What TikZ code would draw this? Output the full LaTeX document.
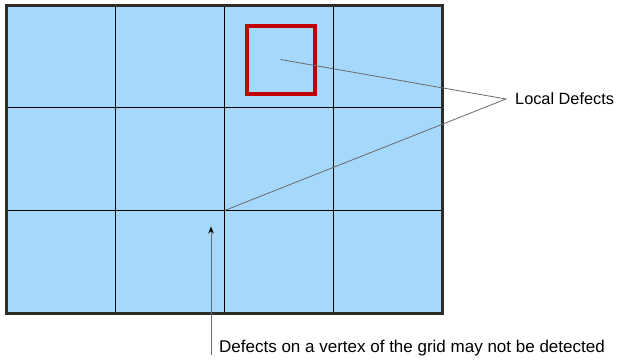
\documentclass[tikz,border=0pt]{standalone}
\usepackage{fontspec}
\setmainfont{Liberation Sans}
\usetikzlibrary{arrows.meta}
\definecolor{cellblue}{HTML}{A6D8FC}
\definecolor{framec}{HTML}{302C28}
\definecolor{defred}{HTML}{C00000}
\definecolor{leader}{HTML}{6A6A6A}
\tikzset{
  gridline/.style={black, line width=1.1pt},
  frame/.style={draw=framec, line width=3pt, fill=cellblue},
  redbox/.style={draw=defred, line width=4pt},
  leaderline/.style={draw=leader, line width=0.8pt},
  label/.style={font=\fontsize{16.3}{19}\selectfont, inner sep=0pt, anchor=base west}
}
\begin{document}
\begin{tikzpicture}[x=1pt,y=-1pt]
\useasboundingbox (0,0) rectangle (618,362);
% frame and cells
\draw[frame] (6.5,5.5) rectangle (442,313);
\foreach \x in {115.5,224.5,333.5} \draw[gridline] (\x,7) -- (\x,311.5);
\foreach \y in {107.5,210.5} \draw[gridline] (8,\y) -- (440.5,\y);
\draw[frame, fill=none] (6.5,5.5) rectangle (442,313);
% red local defect box
\draw[redbox] (246.5,26) rectangle (314.7,94);
\coordinate (d1) at (280.5,59.5);
\coordinate (v) at (224.5,210.5);
\coordinate (conv) at (506,99);
\node[label] (local) at (515,104.3) {Local Defects};
\draw[leaderline] (d1) -- (conv) -- (v);
% vertex defect annotation
\coordinate (abot) at (211,355);
\coordinate (atop) at (211,226.5);
\draw[leaderline, -{Stealth[length=7pt,width=5.5pt,black]}] (abot) -- (atop);
\node[label, font=\fontsize{17}{20}\selectfont] (vertex) at (219,352.3) {Defects on a vertex of the grid may not be detected};
\end{tikzpicture}
\end{document}
